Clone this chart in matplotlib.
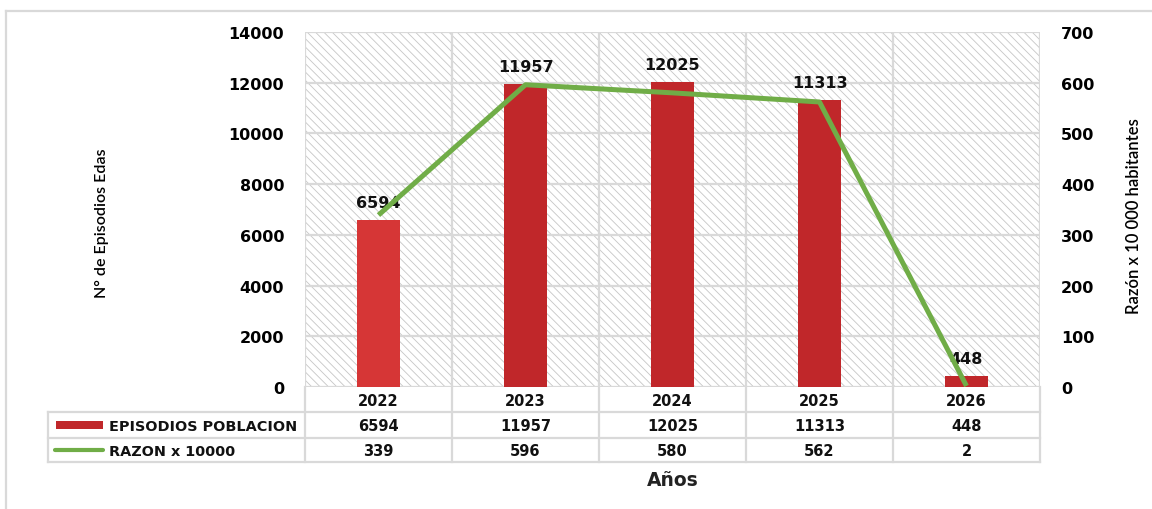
import matplotlib
matplotlib.use("Agg")
import matplotlib.pyplot as plt
from matplotlib.patches import Rectangle

years = ["2022", "2023", "2024", "2025", "2026"]
episodios = [6594, 11957, 12025, 11313, 448]
razon = [339, 596, 580, 562, 2]
series_names = ["EPISODIOS POBLACION", "RAZON x 10000"]
left_ticks = [0, 2000, 4000, 6000, 8000, 10000, 12000, 14000]
right_ticks = [0, 100, 200, 300, 400, 500, 600, 700]

bar_colors = ["#D63636", "#C0272A", "#C0272A", "#C0272A", "#C0272A"]
line_color = "#70AD47"
grid_color = "#D9D9D9"
BOLD = "DejaVu Sans"
NARROW = ["Lato", "DejaVu Sans"]

plt.rcParams["hatch.linewidth"] = 0.6

W, H = 1152, 510
fig = plt.figure(figsize=(W / 100, H / 100), dpi=100)

def fx(px):
    return px / W

def fy(py):
    return 1 - py / H

L, R, T, B = 305, 1040, 33, 388
ax = fig.add_axes([fx(L), fy(B), fx(R) - fx(L), fy(T) - fy(B)])
n = len(years)
xs = list(range(n))
ax.set_xlim(-0.5, n - 0.5)
ax.set_ylim(0, 14000)

# hatched background
ax.add_patch(Rectangle((0, 0), 1, 1, transform=ax.transAxes, facecolor="white",
                       edgecolor="#C6C6C6", hatch="\\" * 4, lw=0, zorder=0))

for t in left_ticks:
    ax.axhline(t, color=grid_color, lw=1.6, zorder=1)
for i in range(n + 1):
    ax.axvline(i - 0.5, color=grid_color, lw=1.6, zorder=1)

ax.bar(xs, episodios, width=0.29, color=bar_colors, zorder=2)
for x, v in zip(xs, episodios):
    ax.annotate(str(v), (x, v), xytext=(0, 7), textcoords="offset points",
                ha="center", va="bottom", fontsize=11.5, fontweight="bold",
                family=BOLD, color="#111111", zorder=5)

for s in ax.spines.values():
    s.set_visible(False)
ax.set_xticks([])
ax.set_yticks(left_ticks)
ax.set_yticklabels([str(t) for t in left_ticks], fontsize=11.5,
                   fontweight="bold", family=BOLD)
ax.tick_params(axis="y", length=0, pad=15)

ax2 = ax.twinx()
ax2.set_ylim(0, 700)
ax2.plot(xs, razon, color=line_color, lw=3.6, solid_capstyle="butt", zorder=4)
for s in ax2.spines.values():
    s.set_visible(False)
ax2.set_yticks(right_ticks)
ax2.set_yticklabels([str(t) for t in right_ticks], fontsize=11.5,
                    fontweight="bold", family=BOLD)
ax2.tick_params(axis="y", length=0, pad=15)

fig.text(fx(102), fy(223), "N° de Episodios Edas", rotation=90, ha="center",
         va="center", fontsize=11.5, family=NARROW, fontweight="semibold")
fig.text(fx(1134), fy(216), "Razón x 10 000 habitantes", rotation=90,
         ha="center", va="center", fontsize=12, family=NARROW, fontweight="semibold")

# data table below
tab = fig.add_axes([0, 0, 1, 1], facecolor="none")
tab.set_xlim(0, W)
tab.set_ylim(H, 0)
tab.axis("off")
cw = (R - L) / n
rows_y = [388, 413, 439, 463]
TL = 48
tc = "#D9D9D9"
for yv in rows_y[1:]:
    tab.plot([TL, R], [yv, yv], color=tc, lw=1.6)
for i in range(n + 1):
    xv = L + i * cw
    tab.plot([xv, xv], [rows_y[0], rows_y[3]], color=tc, lw=1.6)
tab.plot([TL, TL], [rows_y[1], rows_y[3]], color=tc, lw=1.6)

for i, yr in enumerate(years):
    cx = L + (i + 0.5) * cw
    tab.text(cx, (rows_y[0] + rows_y[1]) / 2 + 1, yr, ha="center", va="center",
             fontsize=10.5, fontweight="bold", family=BOLD, color="#111111")
    tab.text(cx, (rows_y[1] + rows_y[2]) / 2 + 1, str(episodios[i]), ha="center",
             va="center", fontsize=10.5, fontweight="bold", family=BOLD, color="#111111")
    tab.text(cx, (rows_y[2] + rows_y[3]) / 2 + 1, str(razon[i]), ha="center",
             va="center", fontsize=10.5, fontweight="bold", family=BOLD, color="#111111")

# legend keys
ym1 = (rows_y[1] + rows_y[2]) / 2
ym2 = (rows_y[2] + rows_y[3]) / 2
tab.add_patch(Rectangle((56, ym1 - 4), 47, 8, color="#C0272A", lw=0))
tab.plot([55, 103], [ym2, ym2], color=line_color, lw=3.0, solid_capstyle="round")
tab.text(109, ym1 + 1, series_names[0], ha="left", va="center", fontsize=10.4,
         fontweight="bold", family=BOLD, color="#111111")
tab.text(109, ym2 + 1, series_names[1], ha="left", va="center", fontsize=10.4,
         fontweight="bold", family=BOLD, color="#111111")

tab.text((L + R) / 2, 481, "Años", ha="center", va="center", fontsize=13.5,
         fontweight="bold", family=BOLD, color="#222222")

# outer frame lines
tab.plot([6, W], [12, 12], color="#D9D9D9", lw=1.6)
tab.plot([6, 6], [12, H], color="#D9D9D9", lw=1.6)

fig.savefig("out.png", dpi=100)
